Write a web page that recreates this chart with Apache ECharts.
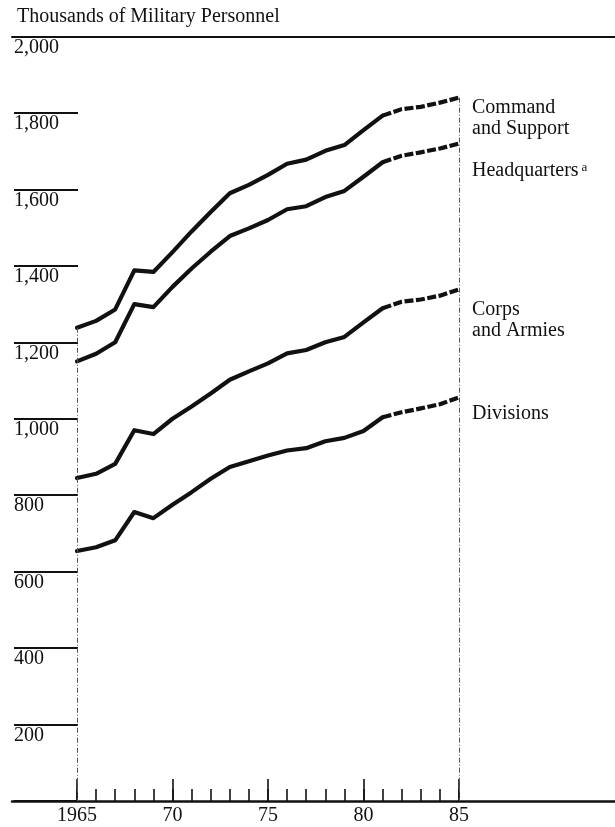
<!DOCTYPE html>
<html>
<head>
<meta charset="utf-8">
<script src="https://cdn.jsdelivr.net/npm/echarts@6/dist/echarts.min.js"></script>
<style>
html,body{margin:0;padding:0;background:#fff;}
#c{width:615px;height:827px;}
</style>
</head>
<body>
<div id="c"></div>
<script>
// ---- data (thousands of military personnel) ----
var years = [1965,1966,1967,1968,1969,1970,1971,1972,1973,1974,1975,1976,1977,1978,1979,1980,1981,1982,1983,1984,1985];
var commandSupport = [1238,1256,1286,1388,1384,1436,1490,1541,1590,1612,1638,1667,1678,1701,1716,1755,1793,1810,1816,1827,1840];
var headquarters   = [1150,1170,1200,1300,1292,1345,1393,1437,1478,1498,1520,1548,1556,1580,1596,1633,1671,1688,1697,1707,1720];
var corpsArmies    = [845,856,882,970,960,1000,1032,1066,1102,1124,1145,1171,1180,1200,1214,1252,1289,1306,1312,1322,1338];
var divisions      = [654,664,682,756,740,775,808,843,874,889,904,917,923,941,950,968,1004,1017,1027,1038,1056];
var seriesNames = ['Command\nand Support', 'Headquarters{sup|a}', 'Corps\nand Armies', 'Divisions'];
var yTicks = [0,200,400,600,800,1000,1200,1400,1600,1800,2000];
var xMajor = [1965,1970,1975,1980,1985];
var xMajorLabels = ['1965','70','75','80','85'];
var projectedFrom = 1981;

var FONT = "'Liberation Serif','DejaVu Serif',serif";
var INK = '#111';

function pairs(vals, from, to) {
  var out = [];
  for (var i = 0; i < years.length; i++) {
    if (years[i] >= from && years[i] <= to) out.push([years[i], vals[i]]);
  }
  return out;
}

var allSeries = [commandSupport, headquarters, corpsArmies, divisions];
var labelOffsets = [[0,0],[0,17],[0,10],[0,6]];
var series = [];
allSeries.forEach(function (vals, k) {
  var solid = {
    type: 'line', xAxisIndex: 0, yAxisIndex: 0,
    data: pairs(vals, years[0], projectedFrom),
    symbol: 'none', silent: true,
    lineStyle: {color: INK, width: 4.2, cap: 'round', join: 'round'}
  };
  var dashed = {
    type: 'line', xAxisIndex: 0, yAxisIndex: 0,
    data: pairs(vals, projectedFrom, years[years.length - 1]),
    symbol: 'none', silent: true,
    lineStyle: {color: INK, width: 4.2, type: [9, 2.5], join: 'round'},
    endLabel: {
      show: true,
      formatter: seriesNames[k],
      color: INK, fontFamily: FONT, fontSize: 20, lineHeight: 20.5,
      align: 'left', verticalAlign: 'top',
      distance: 13, offset: labelOffsets[k],
      rich: {sup: {fontSize: 13, fontFamily: FONT, color: INK, padding: [0,0,7,3]}}
    }
  };
  if (k === 0) {
    var mlStyle = {color: '#555', width: 1, type: [5, 2, 1, 2]};
    solid.markLine = {
      silent: true, symbol: 'none', label: {show: false}, lineStyle: mlStyle,
      data: [[{coord: [years[0], vals[0]]}, {coord: [years[0], 0]}]]
    };
    dashed.markLine = {
      silent: true, symbol: 'none', label: {show: false}, lineStyle: mlStyle,
      data: [[{coord: [years[years.length-1], vals[vals.length-1]]}, {coord: [years[years.length-1], 0]}]]
    };
  }
  series.push(solid, dashed);
});

// x-extent: axis line runs past the data on both sides
var pxPerYear = (459 - 77) / 20;
var xMin = 1965 - (77 - 12) / pxPerYear;
var xMax = 1985 + (615 - 459) / pxPerYear;

var chart = echarts.init(document.getElementById('c'), null, {renderer: 'canvas'});
chart.setOption({
  backgroundColor: '#fff',
  animation: false,
  title: {
    text: 'Thousands of Military Personnel',
    left: 12, top: 2,
    textStyle: {fontFamily: FONT, fontSize: 20, fontWeight: 'normal', color: INK}
  },
  grid: {left: 12, right: 0, top: 36.5, bottom: 26, containLabel: false},
  xAxis: [
    {
      type: 'value', min: xMin, max: xMax, position: 'bottom',
      axisLine: {show: true, lineStyle: {color: INK, width: 2.5}},
      axisTick: {show: true, inside: true, length: 22, customValues: xMajor, lineStyle: {color: INK, width: 1.6}},
      axisLabel: {
        show: true, customValues: xMajor, margin: 5,
        formatter: function (v) { var i = xMajor.indexOf(Math.round(v)); return i >= 0 ? xMajorLabels[i] : ''; },
        fontFamily: FONT, fontSize: 20, color: INK
      },
      splitLine: {show: false}
    },
    {
      type: 'value', min: xMin, max: xMax, position: 'bottom',
      axisLine: {show: false},
      axisTick: {show: true, inside: true, length: 12, customValues: years, lineStyle: {color: INK, width: 1.6}},
      axisLabel: {show: false},
      splitLine: {show: false}
    },
    {
      type: 'value', min: xMin, max: xMax, position: 'top',
      axisLine: {show: true, lineStyle: {color: INK, width: 2}},
      axisTick: {show: false}, axisLabel: {show: false}, splitLine: {show: false}
    }
  ],
  yAxis: {
    type: 'value', min: 0, max: 2000, interval: 200, offset: -2,
    axisLine: {show: false},
    axisTick: {show: true, inside: true, length: 64, lineStyle: {color: INK, width: 2}},
    axisLabel: {
      show: true, inside: true, margin: 0,
      align: 'left', verticalAlign: 'top', padding: [1, 0, 0, 0],
      formatter: function (v) { return v === 0 ? '' : v.toLocaleString('en-US'); },
      fontFamily: FONT, fontSize: 20, color: INK
    },
    splitLine: {show: false}
  },
  series: series
});
</script>
</body>
</html>
